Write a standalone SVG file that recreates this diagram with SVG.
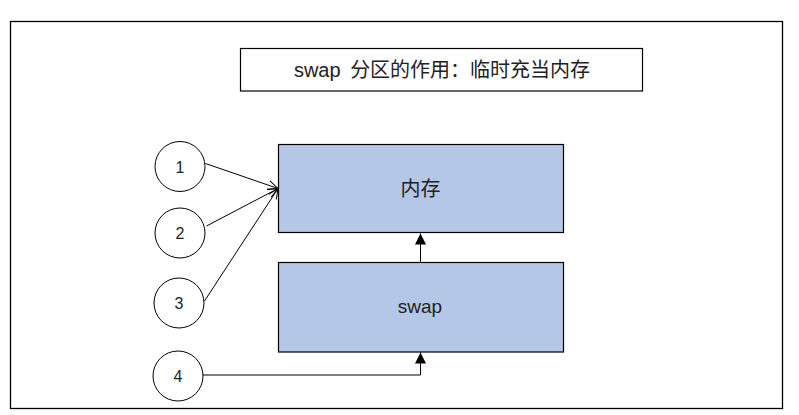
<svg xmlns="http://www.w3.org/2000/svg" width="799" height="415" viewBox="0 0 799 415">
<style>
.frame{fill:#ffffff;stroke:#000000;stroke-width:1.3}
.box{fill:#B4C7E7;stroke:#000000;stroke-width:1.2}
.title{fill:#ffffff;stroke:#000000;stroke-width:1.2}
.circ{fill:#ffffff;stroke:#000000;stroke-width:1}
.lbl{font-family:"Liberation Sans","Noto Sans CJK SC",sans-serif;fill:#222222;text-anchor:middle}
.num{font-family:"Liberation Sans",sans-serif;fill:#222222;text-anchor:middle;font-size:16px}
.edge{fill:none;stroke:#000000;stroke-width:1}
</style>
<defs>
<marker id="open" markerUnits="userSpaceOnUse" markerWidth="14" markerHeight="12" refX="11" refY="6" orient="auto" viewBox="0 0 14 12">
<path d="M1,1.5 L11,6 L1,10.5" fill="none" stroke="#000000" stroke-width="1"/>
</marker>
<marker id="solid" markerUnits="userSpaceOnUse" markerWidth="12" markerHeight="12" refX="11" refY="5.5" orient="auto" viewBox="0 0 12 11">
<path d="M0,0 L11,5.5 L0,11 Z" fill="#000000"/>
</marker>
</defs>
<rect class="frame" x="10.5" y="21.5" width="772" height="387"/>
<g id="title">
<rect class="title" x="240.5" y="48.5" width="402" height="42.5"/>
<text class="lbl" x="442" y="77" font-size="20"><tspan>swap </tspan><tspan dx="4">分区的作用：临时充当内存</tspan></text>
</g>
<g id="memory">
<rect class="box" x="278.5" y="144.5" width="285" height="88"/>
<text class="lbl" x="420.5" y="196" font-size="20">内存</text>
</g>
<g id="swap">
<rect class="box" x="278.5" y="262.5" width="285" height="89.5"/>
<text class="lbl" x="420" y="312.5" font-size="19">swap</text>
</g>
<g id="n1">
<circle class="circ" cx="180" cy="166.5" r="25"/>
<text class="num" x="180" y="172.5">1</text>
</g>
<g id="n2">
<circle class="circ" cx="180" cy="233" r="25"/>
<text class="num" x="180" y="239">2</text>
</g>
<g id="n3">
<circle class="circ" cx="179" cy="303" r="25"/>
<text class="num" x="179" y="309">3</text>
</g>
<g id="n4">
<circle class="circ" cx="178" cy="376" r="25"/>
<text class="num" x="178" y="382">4</text>
</g>
<g id="connectors">
<line class="edge" x1="205.5" y1="163.5" x2="278" y2="188.5" marker-end="url(#open)"/>
<line class="edge" x1="206.5" y1="226" x2="278" y2="188.5" marker-end="url(#open)"/>
<line class="edge" x1="204.5" y1="301" x2="278" y2="188.5" marker-end="url(#open)"/>
<line class="edge" x1="420.5" y1="262.5" x2="420.5" y2="233.5" marker-end="url(#solid)"/>
<polyline class="edge" points="203,375 420.5,375 420.5,352.5" marker-end="url(#solid)"/>
</g>
</svg>
